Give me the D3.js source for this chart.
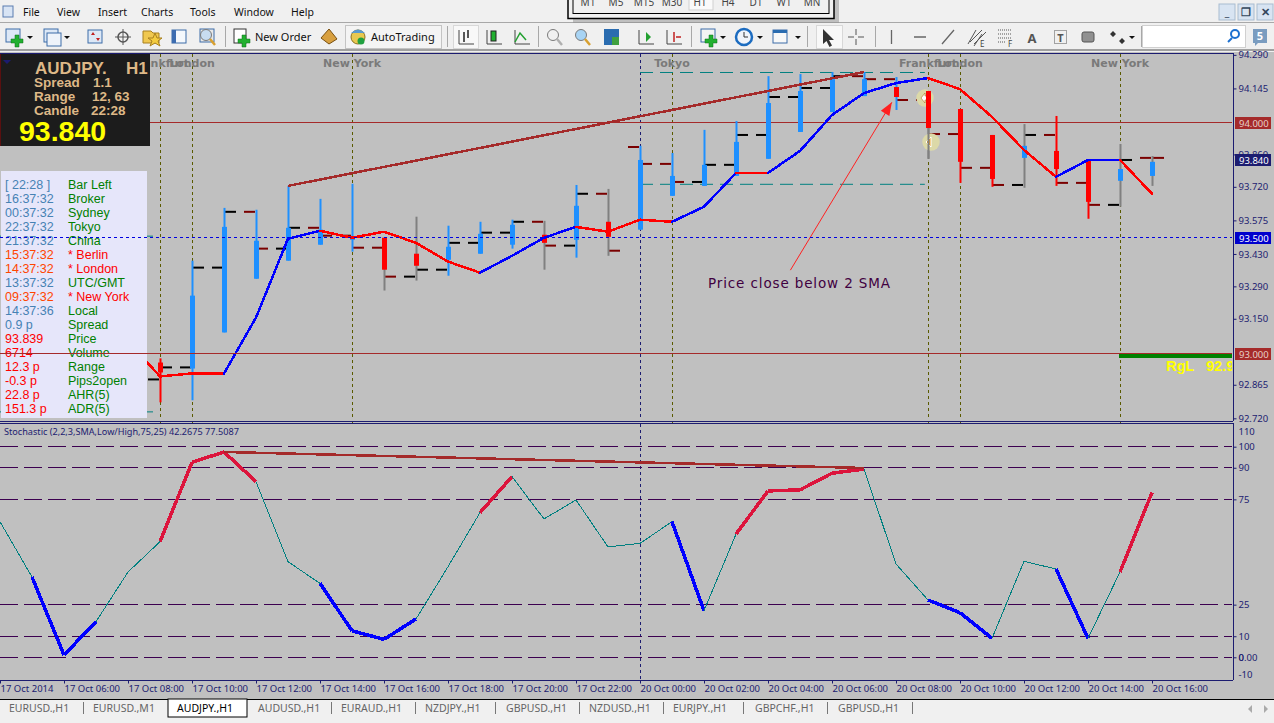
<!DOCTYPE html>
<html>
<head>
<meta charset="utf-8">
<script src="https://cdn.jsdelivr.net/npm/d3@7"></script>
<style>
html,body{margin:0;padding:0;background:#f0f0f0;overflow:hidden}
text{font-family:"Noto Sans",sans-serif}
</style>
</head>
<body>
<svg id="chart" width="1274" height="723"></svg>
<script>
// bars are hourly, index 0 = 17 Oct 04:00, weekend gap removed
const firstBar = 5;
const candleHigh = [92.979,93.401,93.629,93.621,93.724,93.668,93.733,93.500,93.591,93.552,93.569,93.578,93.573,93.728,93.711,93.897,93.866,93.966,94.004,94.198,94.207,94.216,94.216,94.194,94.134,94.056,93.944,93.991,94.026,93.836,93.905,93.853];
const candleLow = [92.789,92.798,93.091,93.323,93.401,93.470,93.440,93.272,93.315,93.336,93.431,93.453,93.362,93.414,93.422,93.535,93.681,93.724,93.767,93.841,93.957,94.043,94.112,94.052,93.841,93.737,93.720,93.716,93.724,93.582,93.634,93.724];
const bodyTop = [92.961,93.250,93.547,93.487,93.543,93.535,93.504,93.500,93.431,93.461,93.517,93.556,93.513,93.638,93.569,93.836,93.767,93.815,93.914,94.082,94.134,94.185,94.185,94.151,94.134,94.056,93.944,93.897,93.875,93.836,93.797,93.828];
const bodyBottom = [92.918,92.935,93.091,93.323,93.401,93.470,93.491,93.362,93.379,93.405,93.431,93.470,93.478,93.491,93.504,93.535,93.681,93.724,93.767,93.841,93.957,94.043,94.112,94.108,93.974,93.828,93.754,93.845,93.797,93.655,93.746,93.767];
const candleKind = ['d','u','u','u','u','u','u','d','d','u','u','u','d','u','d','u','u','u','u','u','u','u','u','d','d','d','d','u','d','d','u','u'];
const wickKind = ['d','u','u','u','u','u','u','g','g','u','u','u','g','u','g','u','u','u','u','u','u','u','u','u','g','d','d','g','d','d','g','g'];

// the dashed level between two bars, one value per half gap
const dashFirst = 4;
const dashLeft = [92.888,92.940,93.371,93.612,93.453,93.543,93.509,93.457,93.332,93.362,93.478,93.522,93.569,93.466,93.690,93.444,93.819,93.741,93.815,93.944,94.108,94.147,94.198,94.185,94.095,93.948,93.802,93.728,93.944,93.737,93.642,93.836,93.845];
const dashRight = [92.888,92.940,93.371,93.612,93.453,93.543,93.509,93.457,93.332,93.362,93.478,93.522,93.569,93.466,93.690,93.892,93.819,93.741,93.815,93.944,94.108,94.147,94.198,94.185,94.095,93.948,93.802,93.728,93.944,93.737,93.642,93.845,null];
const dashLeftKind = ['k','k','k','k','r','k','r','r','r','k','k','k','k','r','k','r','r','r','k','k','k','k','k','r','r','r','r','r','k','r','r','k','r'];
const dashRightKind = ['k','k','k','r','k','r','r','r','k','k','k','k','r','k','r','r','r','k','k','k','k','k','r','r','r','r','r','k','r','r','k','r',null];

const smaValues = [93.052,92.901,92.914,92.914,93.155,93.496,93.530,93.500,93.526,93.478,93.397,93.349,93.422,93.500,93.547,93.526,93.578,93.569,93.634,93.780,93.780,93.875,94.030,94.125,94.168,94.190,94.142,94.022,93.879,93.763,93.836,93.836,93.690];
const smaKind = ['r','r','r','b','b','b','r','r','r','r','r','b','b','b','r','r','r','b','b','r','b','b','b','b','b','r','r','r','r','b','b','r'];

const stochValues = [64.4,38.1,1.1,16.9,40.5,54.9,92.6,97.5,83.4,45.4,35.1,12.6,8.5,18.2,43.0,68.7,85.8,65.7,74.7,52.4,54.1,64.4,22.1,58.5,79.0,79.5,87.4,89.4,44.3,27.2,21.2,9.0,45.6,41.9,9.0,40.5,78.2];
const stochKind = ['n','b','b','n','n','r','r','r','n','n','b','b','b','n','n','r','n','n','n','n','n','b','n','r','r','r','r','n','n','b','b','n','n','b','n','r'];

const priceTicks = [94.29,94.145,93.86,93.72,93.575,93.43,93.29,93.15,92.865,92.72];
const stochTicks = [110,100,90,75,25,10,0,-10];
const stochLevels = [100,90,75,25,10,0];
const timeTickIndex = [0,2,4,6,8,10,12,14,16,18,20,22,24,26,28,30,32,34,36];
const timeTickLabels = ['17 Oct 2014','17 Oct 06:00','17 Oct 08:00','17 Oct 10:00','17 Oct 12:00','17 Oct 14:00','17 Oct 16:00','17 Oct 18:00','17 Oct 20:00','17 Oct 22:00','20 Oct 00:00','20 Oct 02:00','20 Oct 04:00','20 Oct 06:00','20 Oct 08:00','20 Oct 10:00','20 Oct 12:00','20 Oct 14:00','20 Oct 16:00'];

const sessionIndex = [5,6,11,21,29,30,35];
const sessionNames = ['Frankfurt','London','New York','Tokyo','Frankfurt','London','New York'];
const daySplitIndex = 20;

const rangeTop = 94.216, rangeBottom = 93.733, prevRangeTop = 93.509, prevRangeBottom = 92.75;
const priceTrend = [[9,93.724],[27,94.216]];
const stochTrend = [[7,97.5],[27,89.9]];
const arrowFrom = [24.7,93.36], arrowTo = [27.87,94.085];

const infoLeft = ['[ 22:28 ]','16:37:32','00:37:32','22:37:32','21:37:32','15:37:32','14:37:32','13:37:32','09:37:32','14:37:36','0.9 p','93.839','6714','12.3 p','-0.3 p','22.8 p','151.3 p'];
const infoRight = ['Bar Left','Broker','Sydney','Tokyo','China','* Berlin','* London','UTC/GMT','* New York','Local','Spread','Price','Volume','Range','Pips2open','AHR(5)','ADR(5)'];
const infoLeftKind = ['b','b','b','b','b','o','o','b','o','b','b','r','r','r','r','r','r'];
const infoRightKind = ['g','g','g','g','g','r','r','g','r','g','g','g','g','g','g','g','g'];
const tabNames = ['EURUSD.,H1','EURUSD.,M1','AUDJPY.,H1','AUDUSD.,H1','EURAUD.,H1','NZDJPY.,H1','GBPUSD.,H1','NZDUSD.,H1','EURJPY.,H1','GBPCHF.,H1','GBPUSD.,H1'];
const tabX = [9,93,177,258,341,425,506,589,673,755,838];
const tabSep = [83,331,415,495,579,663,743,827,912];
const menuNames = ['File','View','Insert','Charts','Tools','Window','Help'];
const menuX = [23,57,98,141,190,234,291];
const periodNames = ['M1','M5','M15','M30','H1','H4','D1','W1','MN'];

const svg = d3.select('#chart');
const NAVY = '#1c1c70', BROWN = '#a52a2a', PURPLE = '#3c0050', TEAL = '#008080';
const BLUEBAR = '#1e90ff';
const AXIS_FONT = '9.5px';

const x = d3.scaleLinear().domain([0,36]).range([0,1152]);
const y = d3.scaleLinear().domain([93,94]).range([353.5,122]);
const ys = d3.scaleLinear().domain([0,100]).range([657.3,446.7]);

// backgrounds
svg.append('rect').attr('width',1274).attr('height',723).attr('fill','#f0f0f0');
svg.append('rect').attr('x',0).attr('y',52).attr('width',1274).attr('height',647).attr('fill','#c0c0c0');

svg.append('defs').append('clipPath').attr('id','mainClip').append('rect').attr('x',0).attr('y',54).attr('width',1232).attr('height',366);

const main = svg.append('g').attr('clip-path','url(#mainClip)');

// session lines
sessionIndex.forEach(i => {
  main.append('line').attr('x1',x(i)+.5).attr('x2',x(i)+.5).attr('y1',54).attr('y2',421)
    .attr('stroke','#5a5a00').attr('stroke-dasharray','3,3');
});
main.append('line').attr('x1',x(daySplitIndex)+.5).attr('x2',x(daySplitIndex)+.5).attr('y1',54).attr('y2',421)
  .attr('stroke',NAVY).attr('stroke-dasharray','3,3');
main.selectAll('text.session').data(sessionIndex).enter().append('text').attr('class','session')
  .attr('x',d=>x(d)).attr('y',67).attr('text-anchor','middle')
  .style('font-family','"DejaVu Sans"').style('font-weight','bold').style('font-size','11px')
  .attr('fill','#7a7a7a').text((d,i)=>sessionNames[i]);

// day range, dashed teal
[[firstBar-5,firstBar,prevRangeTop],[firstBar-5,firstBar,prevRangeBottom],[20,28.9,rangeTop],[20,28.9,rangeBottom]].forEach(r => {
  main.append('line').attr('x1',x(r[0])).attr('x2',x(r[1])).attr('y1',y(r[2])+.5).attr('y2',y(r[2])+.5)
    .attr('stroke',TEAL).attr('stroke-dasharray','13,7');
});

// horizontal levels
main.append('line').attr('x1',0).attr('x2',1232).attr('y1',Math.floor(y(94))+.5).attr('y2',Math.floor(y(94))+.5).attr('stroke',BROWN);

// dashes between bars
const dashColor = {k:'#000000', r:'#7a0000'};
dashLeft.forEach((v,i) => {
  const px = x(dashFirst+i);
  main.append('line').attr('x1',px+1).attr('x2',px+12).attr('y1',y(v)).attr('y2',y(v))
    .attr('stroke',dashColor[dashLeftKind[i]]).attr('stroke-width',2);
  if (dashRight[i] !== null) {
    main.append('line').attr('x1',px+20).attr('x2',px+31).attr('y1',y(dashRight[i])).attr('y2',y(dashRight[i]))
      .attr('stroke',dashColor[dashRightKind[i]]).attr('stroke-width',2);
  }
});

// candles
const candleColor = {u:BLUEBAR, d:'#ff0000', g:'#808080'};
const bars = main.selectAll('g.bar').data(candleHigh).enter().append('g').attr('class','bar');
bars.append('rect').attr('x',(d,i)=>x(firstBar+i)-.5).attr('width',2)
  .attr('y',d=>y(d)).attr('height',(d,i)=>y(candleLow[i])-y(d))
  .attr('fill',(d,i)=>candleColor[wickKind[i]]);
bars.append('rect').attr('x',(d,i)=>x(firstBar+i)-2).attr('width',5)
  .attr('y',(d,i)=>y(bodyTop[i])).attr('height',(d,i)=>y(bodyBottom[i])-y(bodyTop[i]))
  .attr('fill',(d,i)=>candleColor[candleKind[i]]);

// sma line, colour changes per segment
const smaLine = d3.line().x(d=>x(d[0])).y(d=>y(d[1]));
const smaColor = {r:'#ff0000', b:'#0000ff'};
smaKind.forEach((k,i) => {
  main.append('path').attr('fill','none').attr('stroke',smaColor[k]).attr('stroke-width',2.5).attr('stroke-linecap','round')
    .style('shape-rendering','crispEdges')
    .attr('d',smaLine([[dashFirst+i,smaValues[i]],[dashFirst+i+1,smaValues[i+1]]]));
});

// trend line and arrow
main.append('path').attr('fill','none').attr('stroke',BROWN).attr('stroke-width',2.5).style('shape-rendering','crispEdges').attr('d',smaLine(priceTrend));
const ax1 = x(arrowFrom[0]), ay1 = y(arrowFrom[1]), ax2 = x(arrowTo[0]), ay2 = y(arrowTo[1]);
main.append('line').attr('x1',ax1).attr('y1',ay1).attr('x2',ax2).attr('y2',ay2).attr('stroke','#ff2020');
const ang = Math.atan2(ay2-ay1,ax2-ax1);
const head = [[0,0],[-13,-5],[-13,5]].map(p => [ax2+p[0]*Math.cos(ang)-p[1]*Math.sin(ang), ay2+p[0]*Math.sin(ang)+p[1]*Math.cos(ang)]);
main.append('path').attr('d','M'+head.join('L')+'Z').attr('fill','#ff2020');
main.append('text').attr('x',708).attr('y',288).attr('fill','#400040')
  .style('font-family','"DejaVu Sans"').style('font-size','13.5px').attr('textLength',182).text('Price close below 2 SMA');

// buy/sell markers on the hour
main.append('circle').attr('cx',925).attr('cy',98).attr('r',8.7).attr('fill','#dcd9a8');
main.append('circle').attr('cx',931).attr('cy',142).attr('r',8.7).attr('fill','#dcd9a8');
main.append('path').attr('d','M921,98l4,-5v3h4v4h-4v3z').attr('fill','#fff').attr('stroke','#a06000').attr('stroke-width',.5);
main.append('path').attr('d','M926,142l5,-5v10z').attr('fill','#f0a020').attr('stroke','#fff');
// redraw the two bars that sit in front of the markers
main.append('rect').attr('x',x(29)-2).attr('width',5).attr('y',y(bodyTop[24])).attr('height',y(bodyBottom[24])-y(bodyTop[24])).attr('fill','#ff0000');
main.append('rect').attr('x',x(29)-.5).attr('width',2).attr('y',y(bodyBottom[24])).attr('height',y(candleLow[24])-y(bodyBottom[24])).attr('fill','#808080');

// range low bar
main.append('rect').attr('x',1119).attr('width',113).attr('y',354).attr('height',4).attr('fill','#008000');
main.append('text').attr('x',1166).attr('y',371).attr('fill','#ffff00')
  .style('font-family','"Liberation Sans"').style('font-weight','bold').style('font-size','14.5px')
  .style('white-space','pre').text('RgL   92.958');

// black info box
const box = svg.append('g');
box.append('rect').attr('x',0).attr('y',54).attr('width',150).attr('height',92).attr('fill','#1c1c1c');
box.append('line').attr('x1',.5).attr('x2',.5).attr('y1',54).attr('y2',146).attr('stroke','#5a1010');
box.append('path').attr('d','M3,60h8l-4,4z').attr('fill','#1c1c70');
const tan = '#deb887';
function boxText(tx,ty,s,size,col){
  box.append('text').attr('x',tx).attr('y',ty).attr('fill',col||tan)
    .style('font-family','"Liberation Sans"').style('font-weight','bold').style('font-size',size+'px').text(s);
}
boxText(35,74,'AUDJPY.',17); boxText(126,74,'H1',17);
boxText(34,87,'Spread',13.5); boxText(93,87,'1.1',13.5);
boxText(34,101,'Range',13.5); boxText(92,101,'12, 63',13.5);
boxText(34,115,'Candle',13.5); boxText(91,115,'22:28',13.5);
boxText(19,141,'93.840',28.5,'#ffff00');

// clock list
svg.append('rect').attr('x',1).attr('y',171).attr('width',146).attr('height',247).attr('fill','#e6e6fa');
const infoColor = {b:'#4682b4', o:'#ff4500', r:'#ff0000', g:'#008000'};
const infoFont = sel => sel.style('font-family','"Liberation Sans"').style('font-size','12.5px');
svg.selectAll('text.infoL').data(infoLeft).enter().append('text').attr('class','infoL').call(infoFont)
  .attr('x',5).attr('y',(d,i)=>189+14*i).attr('fill',(d,i)=>infoColor[infoLeftKind[i]]).text(d=>d);
svg.selectAll('text.infoR').data(infoRight).enter().append('text').attr('class','infoR').call(infoFont)
  .attr('x',68).attr('y',(d,i)=>189+14*i).attr('fill',(d,i)=>infoColor[infoRightKind[i]]).text(d=>d);

// these two run across the list panel
svg.append('line').attr('x1',0).attr('x2',1232).attr('y1',Math.floor(y(93.5))+.5).attr('y2',Math.floor(y(93.5))+.5).attr('stroke','#0000e0').attr('stroke-dasharray','3,3');
svg.append('line').attr('x1',0).attr('x2',1232).attr('y1',Math.floor(y(93))+.5).attr('y2',Math.floor(y(93))+.5).attr('stroke',BROWN);

// stochastic window
svg.append('line').attr('x1',0).attr('x2',1233).attr('y1',53.5).attr('y2',53.5).attr('stroke',NAVY);
svg.append('line').attr('x1',0).attr('x2',1233).attr('y1',421.5).attr('y2',421.5).attr('stroke',NAVY);
svg.append('line').attr('x1',0).attr('x2',1233).attr('y1',423.5).attr('y2',423.5).attr('stroke',NAVY);
sessionIndex.forEach(i => {
  svg.append('line').attr('x1',x(i)+.5).attr('x2',x(i)+.5).attr('y1',422).attr('y2',423).attr('stroke','#5a5a00');
});
svg.append('line').attr('x1',x(daySplitIndex)+.5).attr('x2',x(daySplitIndex)+.5).attr('y1',424).attr('y2',680)
  .attr('stroke',NAVY).attr('stroke-dasharray','3,3');
svg.selectAll('line.level').data(stochLevels).enter().append('line').attr('class','level')
  .attr('x1',0).attr('x2',1232).attr('y1',d=>Math.floor(ys(d))+.5).attr('y2',d=>Math.floor(ys(d))+.5)
  .attr('stroke',PURPLE).attr('stroke-dasharray','18,6');

const stochLine = d3.line().x(d=>x(d[0])).y(d=>ys(d[1]));
const stochStyle = {n:[TEAL,1], b:['#0000ff',3.5], r:['#dc143c',3.5]};
stochKind.forEach((k,i) => {
  svg.append('path').attr('fill','none').attr('stroke',stochStyle[k][0]).attr('stroke-width',stochStyle[k][1])
    .style('shape-rendering','crispEdges')
    .attr('d',stochLine([[i,stochValues[i]],[i+1,stochValues[i+1]]]));
});
svg.append('path').attr('fill','none').attr('stroke',BROWN).attr('stroke-width',2.5).style('shape-rendering','crispEdges').attr('d',stochLine(stochTrend));
svg.append('text').attr('x',4).attr('y',435).attr('fill',NAVY).style('font-size','9.15px')
  .text('Stochastic (2,2,3,SMA,Low/High,75,25) 42.2675 77.5087');

// axes
const axisFont = g => {
  g.selectAll('text').attr('fill',NAVY).style('font-size',AXIS_FONT).style('font-family','"Noto Sans"');
  g.selectAll('line').attr('stroke',NAVY);
  g.select('.domain').attr('stroke',NAVY);
};
const priceAxis = svg.append('g').attr('transform','translate(1233.5,0)')
  .call(d3.axisRight(y).tickValues(priceTicks).tickFormat(d3.format('.3f')).tickSize(3).tickSizeOuter(0).tickPadding(2))
  .call(axisFont);
priceAxis.select('.domain').attr('d','M0,53V421');
const stochAxis = svg.append('g').attr('transform','translate(1233.5,0)')
  .call(d3.axisRight(ys).tickValues(stochTicks).tickFormat(d=>d===0?'0.00':d).tickSize(3).tickSizeOuter(0).tickPadding(2))
  .call(axisFont);
stochAxis.select('.domain').attr('d','M0,423V680');
stochAxis.selectAll('.tick text').filter(d=>d===110).attr('dy','9px');
stochAxis.selectAll('.tick text').filter(d=>d===-10).attr('dy','-1px');
stochAxis.selectAll('.tick').filter(d=>d===110||d===-10).select('line').remove();
stochAxis.selectAll('.tick').filter(d=>d===0).append('text').attr('x',5).attr('dy','.32em')
  .attr('fill',NAVY).style('font-size',AXIS_FONT).text('0');

const timeAxis = svg.append('g').attr('transform','translate(0,680.5)')
  .call(d3.axisBottom(x).tickValues(timeTickIndex).tickFormat((d,i)=>timeTickLabels[i]).tickSize(3).tickSizeOuter(0).tickPadding(2))
  .call(axisFont);
timeAxis.select('.domain').attr('d','M0,0H1233');
timeAxis.selectAll('text').attr('text-anchor','start').attr('dx','0px');

// price tags
function priceTag(v,bg,fg){
  svg.append('rect').attr('x',1235).attr('y',Math.floor(y(v))-5).attr('width',36).attr('height',12).attr('fill',bg);
  svg.append('text').attr('x',1239).attr('y',Math.floor(y(v))+4.5).attr('fill',fg).style('font-size',AXIS_FONT).text(v.toFixed(3));
}
priceTag(94,BROWN,'#e6d0c8');
priceTag(93.84,'#1c1c70','#ffffff');
priceTag(93.5,'#0000cd','#ffffff');
priceTag(93,BROWN,'#e6d0c8');

// ---- window chrome, menu, toolbars, tabs ----
const chrome = svg.append('g');
chrome.append('rect').attr('width',1274).attr('height',50).attr('fill','#f0f0f0');
chrome.append('line').attr('x1',0).attr('x2',1274).attr('y1',22.5).attr('y2',22.5).attr('stroke','#a8a8a8');
chrome.append('rect').attr('y',49).attr('width',1274).attr('height',2).attr('fill','#a0a0a0');
chrome.selectAll('text.menu').data(menuNames).enter().append('text').attr('class','menu')
  .attr('x',(d,i)=>menuX[i]).attr('y',16).attr('fill','#111').style('font-size','10.5px').text(d=>d);

// app icon
chrome.append('rect').attr('x',3).attr('y',6).attr('width',10).attr('height',11).attr('fill','#d8e4f4').attr('stroke','#5a7cb0');

// period popup
chrome.append('rect').attr('x',573).attr('y',-4).attr('width',266).attr('height',27).attr('fill','#909090').attr('opacity',.5);
chrome.append('rect').attr('x',568).attr('y',-3).attr('width',266).attr('height',21.5).attr('fill','#f0f0f0').attr('stroke','#000').attr('stroke-width',1.5);
chrome.append('rect').attr('x',573).attr('y',-3).attr('width',256).attr('height',16.5).attr('fill','#f0f0f0').attr('stroke','#000');
chrome.append('rect').attr('x',689).attr('y',-3).attr('width',24).attr('height',13).attr('fill','#fafafa').attr('stroke','#d0d0d0');
chrome.selectAll('text.period').data(periodNames).enter().append('text').attr('class','period')
  .attr('x',(d,i)=>588+i*28).attr('y',6).attr('text-anchor','middle').attr('fill','#444').style('font-size','10px').text(d=>d);

// window buttons
[1227,1246,1265].forEach((bx,i) => {
  chrome.append('rect').attr('x',bx-8).attr('y',4).attr('width',16).attr('height',16).attr('fill','#d8e4f2').attr('stroke','#a8bcd0');
  chrome.append('text').attr('x',bx).attr('y',16).attr('text-anchor','middle').attr('fill','#33475c')
    .style('font-size','11px').style('font-weight','bold').text(['_','❐','✕'][i]);
});

// small toolbar helpers
function sep(sx){ chrome.append('line').attr('x1',sx+.5).attr('x2',sx+.5).attr('y1',26).attr('y2',47).attr('stroke','#a8a8a8'); }
function drop(dx){ chrome.append('path').attr('d',`M${dx-3},36h6l-3,3z`).attr('fill','#111'); }
function plus(px,py){ chrome.append('path').attr('d',`M${px-2},${py-6}h4v4h4v4h-4v4h-4v-4h-4v-4h4z`).attr('fill','#22b030').attr('stroke','#0c6c18').attr('stroke-width',.5); }
function win(wx,wy,col){ chrome.append('rect').attr('x',wx).attr('y',wy).attr('width',14).attr('height',13).attr('fill',col||'#dde8f6').attr('stroke','#3c6ca8'); }
function glass(gx,col){
  chrome.append('circle').attr('cx',gx-2).attr('cy',35).attr('r',5.5).attr('fill',col).attr('stroke','#7a7a7a');
  chrome.append('line').attr('x1',gx+2).attr('y1',39).attr('x2',gx+7).attr('y2',45).attr('stroke',col==='#f0f0f0'?'#b0b0b0':'#d8a030').attr('stroke-width',2.5);
}
function chartGlyph(cx,kind){
  chrome.append('path').attr('d',`M${cx-7},30V44H${cx+8}`).attr('fill','none').attr('stroke','#444');
  if (kind==='line') chrome.append('path').attr('d',`M${cx-7},42L${cx-2},33L${cx+4},40`).attr('fill','none').attr('stroke','#22a030').attr('stroke-width',1.5);
  if (kind==='bar') chrome.append('path').attr('d',`M${cx-2},32V42M${cx+2},30V38`).attr('stroke','#222').attr('stroke-width',1.5);
  if (kind==='candle') chrome.append('rect').attr('x',cx-3).attr('y',31).attr('width',5).attr('height',10).attr('fill','#22b030').attr('stroke','#222');
  if (kind==='shift') chrome.append('path').attr('d',`M${cx},32l5,5l-5,5z`).attr('fill','#22a030');
  if (kind==='auto') chrome.append('path').attr('d',`M${cx},32V42M${cx+2},37h5`).attr('stroke','#c02020').attr('stroke-width',1.5);
}
[225,447,538,691,807,875,1141].forEach(sep);
win(6,29); plus(17,41); drop(30);
win(44,29); win(47,33,'#eef3fa'); drop(67);
win(88,30); chrome.append('path').attr('d','M93,32l2,3h-4zM98,41l2,-3h-4z').attr('fill','#c02020');
chrome.append('circle').attr('cx',123).attr('cy',37).attr('r',5).attr('fill','none').attr('stroke','#555').attr('stroke-width',1.5);
chrome.append('path').attr('d','M123,29V45M115,37H131').attr('stroke','#555');
chrome.append('path').attr('d','M143,31h8l2,2h6v10h-16z').attr('fill','#f0c850').attr('stroke','#a88020');
chrome.append('path').attr('d','M155,33l2,5l5,0l-4,3l2,5l-5,-3l-5,3l2,-5l-4,-3l5,0z').attr('fill','#f4cc40').attr('stroke','#a88020');
win(172,30,'#f4f8fc'); chrome.append('rect').attr('x',172).attr('y',30).attr('width',4).attr('height',13).attr('fill','#3c6cb0');
win(200,29,'#e8e8e8'); glass(208,'#c8dcf0');
chrome.append('rect').attr('x',234).attr('y',29).attr('width',12).attr('height',14).attr('fill','#fff').attr('stroke','#333'); plus(244,41);
chrome.append('text').attr('x',255).attr('y',41).attr('fill','#111').style('font-size','11px').text('New Order');
chrome.append('path').attr('d','M321,38l8,-9l8,10l-8,5z').attr('fill','#d8a040').attr('stroke','#7a5010');
chrome.append('rect').attr('x',345.5).attr('y',25.5).attr('width',96).attr('height',23).attr('fill','#f4f4f4').attr('stroke','#c4c4c4');
chrome.append('circle').attr('cx',358).attr('cy',37).attr('r',7).attr('fill','#e8c850').attr('stroke','#8a7020');
chrome.append('path').attr('d','M351,33q7,-7 14,0z').attr('fill','#5a9ad0');
chrome.append('circle').attr('cx',361).attr('cy',41).attr('r',3.5).attr('fill','#20a040');
chrome.append('text').attr('x',371).attr('y',41).attr('fill','#111').style('font-size','11px').text('AutoTrading');
chrome.append('rect').attr('x',453.5).attr('y',25.5).attr('width',25).attr('height',23).attr('fill','#f8f8f8').attr('stroke','#d8d8d8');
chartGlyph(466,'bar'); chartGlyph(494,'candle'); chartGlyph(522,'line');
glass(555,'#f0f0f0'); glass(583,'#a8d4f4');
chrome.append('rect').attr('x',604).attr('y',29).attr('width',15).attr('height',16).attr('fill','#2a6cb0');
chrome.append('rect').attr('x',612).attr('y',37).attr('width',7).attr('height',8).attr('fill','#40a040');
chartGlyph(646,'shift'); chartGlyph(674,'auto');
win(701,29,'#f4f4f4'); plus(711,41); drop(723);
chrome.append('circle').attr('cx',744).attr('cy',37).attr('r',8).attr('fill','#f0f4fa').attr('stroke','#1c6cc0').attr('stroke-width',2.5);
chrome.append('path').attr('d','M744,32V37H748').attr('fill','none').attr('stroke','#333');
drop(760);
win(773,30,'#f8f8f8'); chrome.append('rect').attr('x',773).attr('y',30).attr('width',14).attr('height',3).attr('fill','#2a6cb0'); drop(798);
chrome.append('rect').attr('x',816.5).attr('y',25.5).attr('width',26).attr('height',23).attr('fill','#f8f8f8').attr('stroke','#d8d8d8');
chrome.append('path').attr('d','M823,29V44l3.5,-3l3,6l2.5,-1.500l-3,-5.500h5z').attr('fill','#333');
chrome.append('path').attr('d','M856,29V35M856,39V45M848,37H854M858,37H864').attr('stroke','#555').attr('fill','none');
chrome.append('path').attr('d','M891.500,30V44M914,37H926M942,44L954,30').attr('stroke','#666').attr('stroke-width',1.3).attr('fill','none');
chrome.append('path').attr('d','M970,42L982,30M974,44L986,32M976,30L968,44M982,34L974,46').attr('stroke','#555').attr('fill','none');
chrome.append('text').attr('x',980).attr('y',47).attr('fill','#444').style('font-size','8px').text('E');
chrome.append('path').attr('d','M998,30H1012M998,34H1012M998,38H1012M998,42H1006').attr('stroke','#555').attr('stroke-dasharray','1,1');
chrome.append('text').attr('x',1008).attr('y',47).attr('fill','#444').style('font-size','8px').text('F');
chrome.append('text').attr('x',1032).attr('y',43).attr('text-anchor','middle').attr('fill','#555').style('font-size','13px').style('font-weight','bold').text('A');
chrome.append('rect').attr('x',1054.5).attr('y',30.5).attr('width',12).attr('height',13).attr('fill','none').attr('stroke','#555').attr('stroke-dasharray','1,1');
chrome.append('text').attr('x',1060.5).attr('y',42).attr('text-anchor','middle').attr('fill','#555').style('font-size','11px').style('font-weight','bold').text('T');
chrome.append('rect').attr('x',1082).attr('y',32).attr('width',12).attr('height',10).attr('rx',2).attr('fill','#909090').attr('stroke','#555');
chrome.append('path').attr('d','M1113,31l3,3l-3,3l-3,-3zM1122,38l3,3l-3,3l-3,-3z').attr('fill','#333');
drop(1132);
chrome.append('rect').attr('x',1142.5).attr('y',25.5).attr('width',103).attr('height',22).attr('fill','#fff').attr('stroke','#d0d0d0');
chrome.append('circle').attr('cx',1235).attr('cy',34).attr('r',4).attr('fill','none').attr('stroke','#1c70d0').attr('stroke-width',2);
chrome.append('line').attr('x1',1232).attr('y1',38).attr('x2',1228).attr('y2',42).attr('stroke','#1c70d0').attr('stroke-width',2);
chrome.append('path').attr('d','M1253,29h14v14h-9l-3,3v-3h-2z').attr('fill','#7a9cc0');
chrome.append('text').attr('x',1260).attr('y',40).attr('text-anchor','middle').attr('fill','#fff').style('font-size','11px').style('font-weight','bold').text('5');

// tabs
const tabs = svg.append('g');
tabs.append('rect').attr('y',699).attr('width',1274).attr('height',24).attr('fill','#f0f0f0');
tabs.append('line').attr('x1',0).attr('x2',1274).attr('y1',699.5).attr('y2',699.5).attr('stroke','#000');
tabs.append('rect').attr('x',168).attr('y',699).attr('width',79).attr('height',18).attr('fill','#fff').attr('stroke','#000');
tabs.selectAll('text.tab').data(tabNames).enter().append('text').attr('class','tab')
  .attr('x',(d,i)=>tabX[i]).attr('y',712).attr('fill',(d,i)=>i===2?'#000':'#666').style('font-size','10.5px').text(d=>d);
tabs.selectAll('line.tabsep').data(tabSep).enter().append('line').attr('class','tabsep')
  .attr('x1',d=>d+.5).attr('x2',d=>d+.5).attr('y1',702).attr('y2',714).attr('stroke','#777');
tabs.append('path').attr('d','M1252,705l-4,4l4,4zM1264,705l4,4l-4,4z').attr('fill','#aaa');
</script>
</body>
</html>
